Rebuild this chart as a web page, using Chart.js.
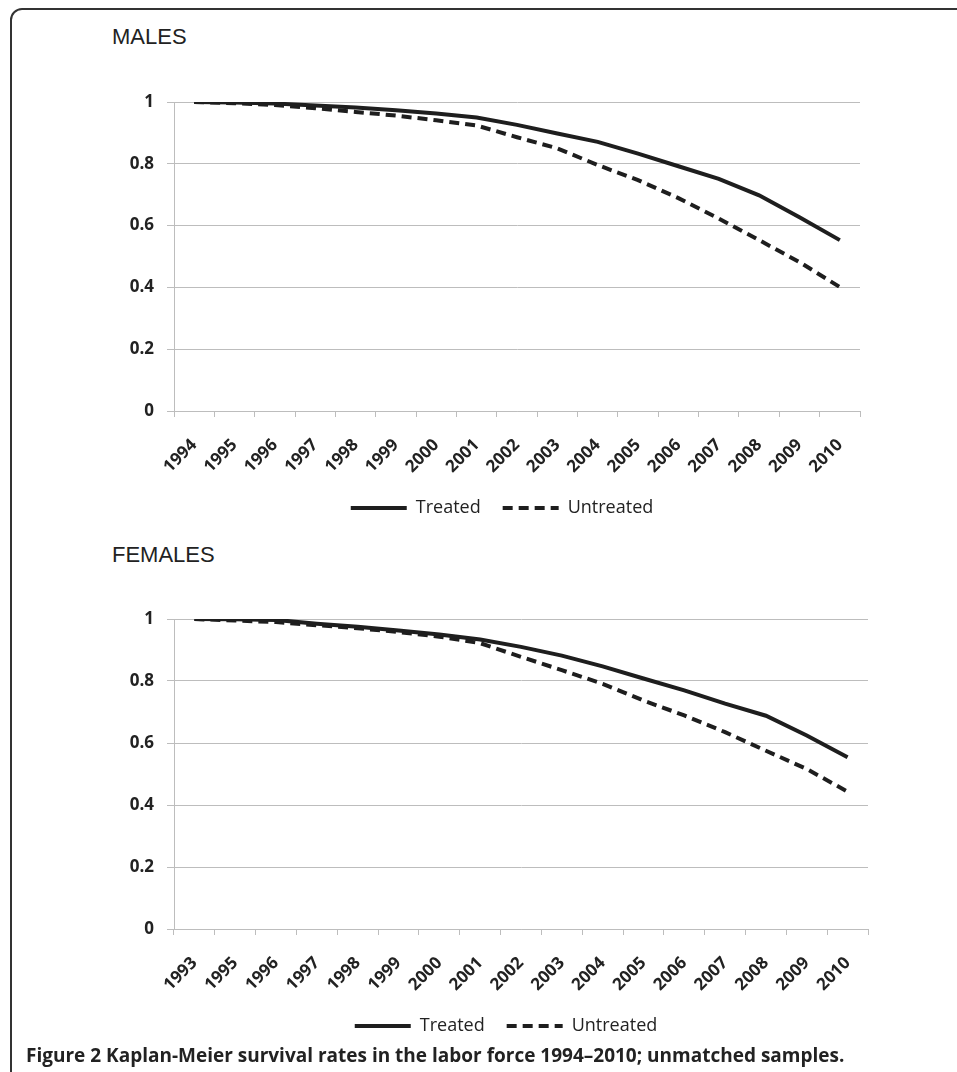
<!DOCTYPE html>
<html>
<head>
<meta charset="utf-8">
<script src="https://cdn.jsdelivr.net/npm/chart.js@4.4.1/dist/chart.umd.min.js"></script>
<style>
  html, body { margin: 0; padding: 0; background: #fff; }
  body { width: 957px; height: 1072px; position: relative; overflow: hidden; }
  #frame { position: absolute; left: 10px; top: 8px; width: 1000px; height: 1200px;
    border: 2px solid #333; border-top-left-radius: 12px; box-sizing: border-box; }
  .ttl { position: absolute; font-family: "Liberation Sans", Arial, sans-serif; font-size: 22px; color: #222; line-height: 1; }
  canvas { position: absolute; }
  #caption { position: absolute; left: 26px; top: 1044px; font-family: "Open Sans", sans-serif;
    font-weight: 700; font-size: 19px; color: #222; white-space: nowrap; line-height: 1.2; }
</style>
</head>
<body>
<div id="frame"></div>
<div class="ttl" style="left:112px; top:26px;">MALES</div>
<div class="ttl" style="left:112px; top:544px;">FEMALES</div>
<canvas id="males" width="800" height="457" style="left:100px; top:70px;"></canvas>
<canvas id="females" width="808" height="458" style="left:100px; top:587px;"></canvas>
<div id="caption">Figure 2 Kaplan-Meier survival rates in the labor force 1994–2010; unmatched samples.</div>
<script>
const maleYears = ['1994','1995','1996','1997','1998','1999','2000','2001','2002','2003','2004','2005','2006','2007','2008','2009','2010'];
const femaleYears = ['1993','1995','1996','1997','1998','1999','2000','2001','2002','2003','2004','2005','2006','2007','2008','2009','2010'];

const maleTreated   = [1.0, 0.998, 0.995, 0.989, 0.982, 0.973, 0.963, 0.950, 0.926, 0.898, 0.871, 0.833, 0.792, 0.751, 0.698, 0.627, 0.553];
const maleUntreated = [1.0, 0.996, 0.990, 0.980, 0.968, 0.956, 0.941, 0.924, 0.886, 0.850, 0.796, 0.747, 0.689, 0.623, 0.553, 0.482, 0.401];

const femaleTreated   = [1.0, 0.999, 0.997, 0.985, 0.975, 0.963, 0.950, 0.934, 0.910, 0.882, 0.847, 0.808, 0.770, 0.727, 0.688, 0.624, 0.554];
const femaleUntreated = [1.0, 0.995, 0.990, 0.980, 0.970, 0.958, 0.943, 0.922, 0.878, 0.835, 0.791, 0.737, 0.689, 0.635, 0.575, 0.516, 0.443];

const yTicks = { min: 0, max: 1, step: 0.2 };

const ink = '#1e1e1e';
const gridGray = '#bdbdbd';
const tickFont = { family: '"Open Sans", sans-serif', size: 17, weight: '700' };

function legendLabels(chart) {
  const items = Chart.defaults.plugins.legend.labels.generateLabels(chart);
  items.forEach(it => {
    const ds = chart.data.datasets[it.datasetIndex];
    it.lineDash = ds.borderDash || [];
    it.lineWidth = 4;
    it.strokeStyle = ink;
    it.fillStyle = ink;
    it.pointStyle = 'line';
  });
  return items;
}

// legend in the original sits a bit right of the canvas centre
const nudgeLegend = {
  id: 'nudgeLegend',
  afterLayout(chart) {
    const lg = chart.legend;
    if (lg) { lg.left += 22; lg.right += 22; }
  }
};

function makeChart(id, labels, treated, untreated) {
  return new Chart(document.getElementById(id), {
    type: 'line',
    data: {
      labels: labels,
      datasets: [
        { label: 'Treated', data: treated, borderColor: ink, backgroundColor: ink,
          borderWidth: 4, pointRadius: 0, tension: 0 },
        { label: 'Untreated', data: untreated, borderColor: ink, backgroundColor: ink,
          borderWidth: 4, borderDash: [10, 6], pointRadius: 0, tension: 0 }
      ]
    },
    plugins: [nudgeLegend],
    options: {
      responsive: false,
      animation: false,
      devicePixelRatio: 1,
      layout: { padding: { top: 32, right: 40, left: 0, bottom: 0 } },
      plugins: {
        tooltip: { enabled: false },
        legend: {
          position: 'bottom',
          labels: {
            usePointStyle: true, pointStyle: 'line', pointStyleWidth: 56,
            color: '#222', padding: 22,
            font: { family: '"Open Sans", sans-serif', size: 18 },
            generateLabels: legendLabels
          }
        }
      },
      scales: {
        x: {
          offset: true,
          grid: { offset: true, drawOnChartArea: false, drawTicks: true, tickLength: 6, color: gridGray },
          border: { color: gridGray },
          ticks: { maxRotation: 45, minRotation: 45, autoSkip: false, padding: 18, color: '#222', font: tickFont },
          afterFit: s => { s.height = 66; }
        },
        y: {
          min: yTicks.min, max: yTicks.max,
          grid: { color: gridGray, tickLength: 7 },
          border: { color: gridGray },
          ticks: { stepSize: yTicks.step, padding: 13, color: '#222', font: tickFont,
            callback: v => String(Number(v.toFixed(2))) },
          afterFit: s => { s.width = 74; }
        }
      }
    }
  });
}

makeChart('males', maleYears, maleTreated, maleUntreated);
makeChart('females', femaleYears, femaleTreated, femaleUntreated);
</script>
</body>
</html>
